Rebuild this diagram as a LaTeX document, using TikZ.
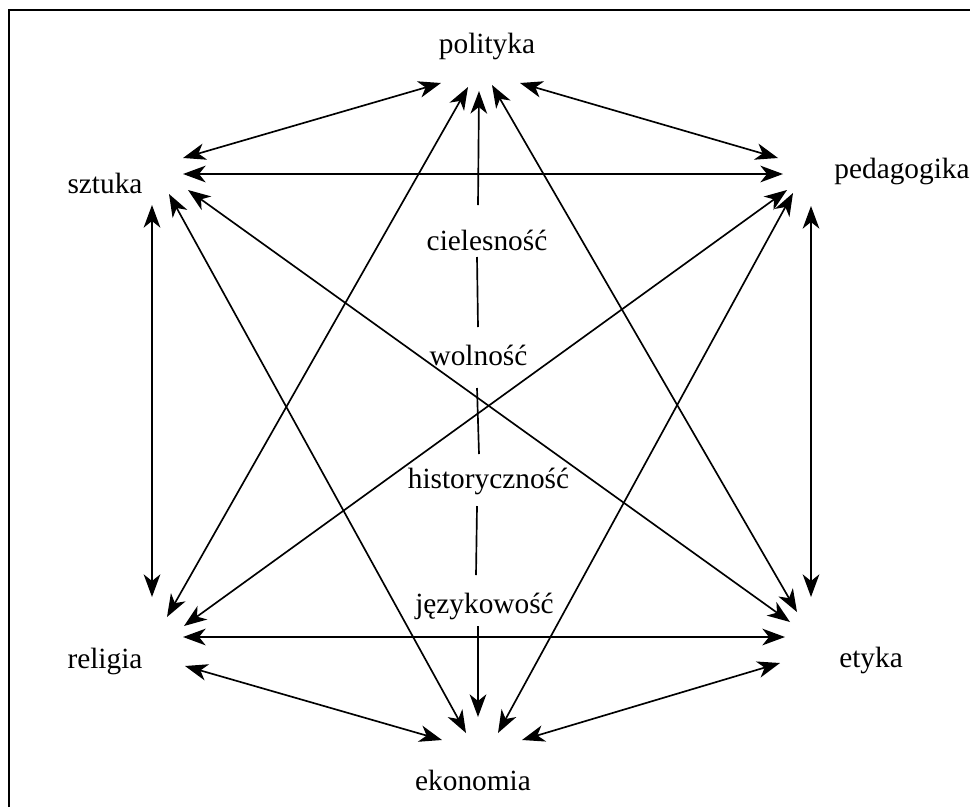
\documentclass[tikz,border=0pt]{standalone}
\usepackage{fontspec}
\setmainfont{Liberation Serif}
\usetikzlibrary{arrows.meta}
\tikzset{
  tip/.tip={Stealth[length=17pt,width=12.5pt,inset=5pt]},
  lbl/.style={anchor=base, inner sep=0pt, font=\fontsize{22}{26}\selectfont},
  conn/.style={line width=1.25pt, tip-tip},
  seg/.style={line width=1.25pt},
  segup/.style={line width=1.25pt, -tip},
  frame/.style={line width=1.5pt}
}
\begin{document}
\begin{tikzpicture}[x=0.75pt,y=-0.75pt]
\useasboundingbox (0,0) rectangle (970,807);
% frame (right and bottom sides lie outside the picture)
\coordinate (fbl) at (8.5,807);
\coordinate (ftl) at (8.5,10);
\coordinate (ftr) at (970,10);
\draw[frame] (fbl) -- (ftl) -- (ftr);
% labels
\node[lbl] (polityka) at (487,53) {polityka};
\node[lbl] (sztuka) at (105,193) {sztuka};
\node[lbl] (pedagogika) at (902,178) {pedagogika};
\node[lbl] (religia) at (105,668) {religia};
\node[lbl] (etyka) at (871,667) {etyka};
\node[lbl] (ekonomia) at (473,790) {ekonomia};
\node[lbl] (ciel) at (487,250) {cielesność};
\node[lbl] (woln) at (478.5,365) {wolność};
\node[lbl] (hist) at (488.5,488) {historyczność};
\node[lbl] (jezy) at (484.5,613) {językowość};
% arrow end points
\coordinate (po1) at (441,83);  \coordinate (sz1) at (183,158);
\coordinate (po2) at (520,83);  \coordinate (pe1) at (778,158);
\coordinate (sz2) at (183,174); \coordinate (pe2) at (783,174);
\coordinate (po3) at (468,87);  \coordinate (re1) at (167,617);
\coordinate (po4) at (492,85);  \coordinate (et1) at (797,612);
\coordinate (sz3) at (152,205); \coordinate (re2) at (152,597);
\coordinate (sz4) at (169,194); \coordinate (ek1) at (466,733);
\coordinate (sz5) at (188,190); \coordinate (et2) at (790,622);
\coordinate (pe3) at (787,190); \coordinate (re3) at (184,626);
\coordinate (pe4) at (793,193); \coordinate (ek2) at (498,733);
\coordinate (pe5) at (811,206); \coordinate (et3) at (811,597);
\coordinate (re4) at (183,637); \coordinate (et4) at (785,637);
\coordinate (re5) at (185,666); \coordinate (ek3) at (442,740);
\coordinate (ek4) at (522,740); \coordinate (et5) at (780,663);
% vertical chain
\coordinate (v0) at (479,91);
\coordinate (v1) at (478,205);  \coordinate (v2) at (477,257);
\coordinate (v3) at (478,327);  \coordinate (v4) at (477,388);
\coordinate (v5) at (479,454);  \coordinate (v6) at (477,506);
\coordinate (v7) at (476,575);  \coordinate (v8) at (478,626);
\coordinate (v9) at (478,717);
% connectors
\draw[conn] (po1) -- (sz1);
\draw[conn] (po2) -- (pe1);
\draw[conn] (sz2) -- (pe2);
\draw[conn] (po3) -- (re1);
\draw[conn] (po4) -- (et1);
\draw[conn] (sz3) -- (re2);
\draw[conn] (sz4) -- (ek1);
\draw[conn] (sz5) -- (et2);
\draw[conn] (pe3) -- (re3);
\draw[conn] (pe4) -- (ek2);
\draw[conn] (pe5) -- (et3);
\draw[conn] (re4) -- (et4);
\draw[conn] (re5) -- (ek3);
\draw[conn] (ek4) -- (et5);
\draw[segup] (v1) -- (v0);
\draw[seg] (v2) -- (v3);
\draw[seg] (v4) -- (v5);
\draw[seg] (v6) -- (v7);
\draw[segup] (v8) -- (v9);
\end{tikzpicture}
\end{document}
